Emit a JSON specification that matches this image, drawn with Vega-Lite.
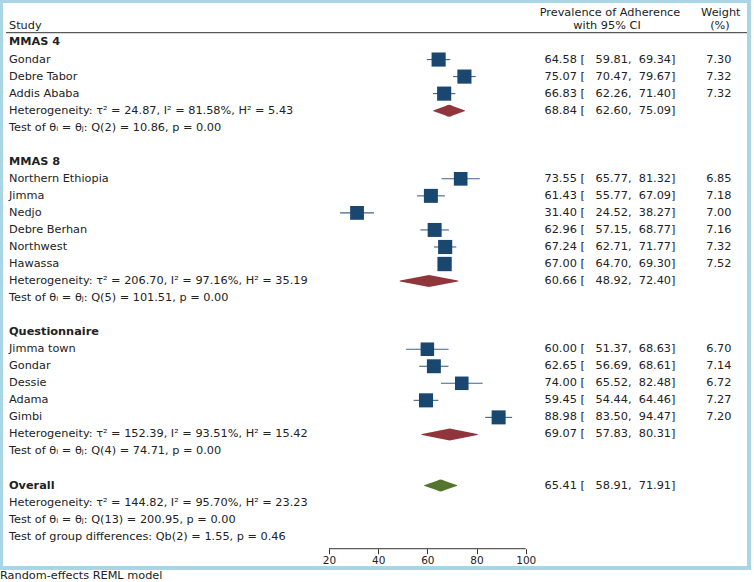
{
  "$schema": "https://vega.github.io/schema/vega-lite/v6.json",
  "width": 748,
  "height": 567,
  "autosize": "none",
  "padding": {"left": 1, "top": 1, "right": 5, "bottom": 14},
  "background": "white",
  "config": {
    "font": "DejaVu Sans",
    "view": {"stroke": "#a9d6e5", "strokeWidth": 4},
    "axisX": {
      "domain": false,
      "grid": false,
      "ticks": true,
      "tickSize": 5,
      "tickColor": "#333333",
      "tickWidth": 1,
      "labelFontSize": 10.5,
      "labelColor": "#222222",
      "labelFont": "DejaVu Sans",
      "labelPadding": 2,
      "labelFlush": false,
      "offset": -19.3
    }
  },
  "datasets": {
    "rows": [
      {"r": 0, "label": "MMAS 4", "bold": true, "kind": "group"},
      {"r": 1, "label": "Gondar", "kind": "study", "est": 64.58, "lo": 59.81, "hi": 69.34, "w": 7.30, "ci": "64.58\u00a0[\u00a0\u00a0\u00a059.81,\u00a0\u00a069.34]"},
      {"r": 2, "label": "Debre Tabor", "kind": "study", "est": 75.07, "lo": 70.47, "hi": 79.67, "w": 7.32, "ci": "75.07\u00a0[\u00a0\u00a0\u00a070.47,\u00a0\u00a079.67]"},
      {"r": 3, "label": "Addis Ababa", "kind": "study", "est": 66.83, "lo": 62.26, "hi": 71.40, "w": 7.32, "ci": "66.83\u00a0[\u00a0\u00a0\u00a062.26,\u00a0\u00a071.40]"},
      {"r": 4, "label": "Heterogeneity: \u03c4\u00b2 = 24.87, I\u00b2 = 81.58%, H\u00b2 = 5.43", "kind": "pooled", "est": 68.84, "lo": 62.60, "hi": 75.09, "ci": "68.84\u00a0[\u00a0\u00a0\u00a062.60,\u00a0\u00a075.09]"},
      {"r": 5, "label": "Test of \u03b8\u1d62 = \u03b8\u2c7c: Q(2) = 10.86, p = 0.00", "kind": "text"},
      {"r": 7, "label": "MMAS 8", "bold": true, "kind": "group"},
      {"r": 8, "label": "Northern Ethiopia", "kind": "study", "est": 73.55, "lo": 65.77, "hi": 81.32, "w": 6.85, "ci": "73.55\u00a0[\u00a0\u00a0\u00a065.77,\u00a0\u00a081.32]"},
      {"r": 9, "label": "Jimma", "kind": "study", "est": 61.43, "lo": 55.77, "hi": 67.09, "w": 7.18, "ci": "61.43\u00a0[\u00a0\u00a0\u00a055.77,\u00a0\u00a067.09]"},
      {"r": 10, "label": "Nedjo", "kind": "study", "est": 31.40, "lo": 24.52, "hi": 38.27, "w": 7.00, "ci": "31.40\u00a0[\u00a0\u00a0\u00a024.52,\u00a0\u00a038.27]"},
      {"r": 11, "label": "Debre Berhan", "kind": "study", "est": 62.96, "lo": 57.15, "hi": 68.77, "w": 7.16, "ci": "62.96\u00a0[\u00a0\u00a0\u00a057.15,\u00a0\u00a068.77]"},
      {"r": 12, "label": "Northwest", "kind": "study", "est": 67.24, "lo": 62.71, "hi": 71.77, "w": 7.32, "ci": "67.24\u00a0[\u00a0\u00a0\u00a062.71,\u00a0\u00a071.77]"},
      {"r": 13, "label": "Hawassa", "kind": "study", "est": 67.00, "lo": 64.70, "hi": 69.30, "w": 7.52, "ci": "67.00\u00a0[\u00a0\u00a0\u00a064.70,\u00a0\u00a069.30]"},
      {"r": 14, "label": "Heterogeneity: \u03c4\u00b2 = 206.70, I\u00b2 = 97.16%, H\u00b2 = 35.19", "kind": "pooled", "est": 60.66, "lo": 48.92, "hi": 72.40, "ci": "60.66\u00a0[\u00a0\u00a0\u00a048.92,\u00a0\u00a072.40]"},
      {"r": 15, "label": "Test of \u03b8\u1d62 = \u03b8\u2c7c: Q(5) = 101.51, p = 0.00", "kind": "text"},
      {"r": 17, "label": "Questionnaire", "bold": true, "kind": "group"},
      {"r": 18, "label": "Jimma town", "kind": "study", "est": 60.00, "lo": 51.37, "hi": 68.63, "w": 6.70, "ci": "60.00\u00a0[\u00a0\u00a0\u00a051.37,\u00a0\u00a068.63]"},
      {"r": 19, "label": "Gondar", "kind": "study", "est": 62.65, "lo": 56.69, "hi": 68.61, "w": 7.14, "ci": "62.65\u00a0[\u00a0\u00a0\u00a056.69,\u00a0\u00a068.61]"},
      {"r": 20, "label": "Dessie", "kind": "study", "est": 74.00, "lo": 65.52, "hi": 82.48, "w": 6.72, "ci": "74.00\u00a0[\u00a0\u00a0\u00a065.52,\u00a0\u00a082.48]"},
      {"r": 21, "label": "Adama", "kind": "study", "est": 59.45, "lo": 54.44, "hi": 64.46, "w": 7.27, "ci": "59.45\u00a0[\u00a0\u00a0\u00a054.44,\u00a0\u00a064.46]"},
      {"r": 22, "label": "Gimbi", "kind": "study", "est": 88.98, "lo": 83.50, "hi": 94.47, "w": 7.20, "ci": "88.98\u00a0[\u00a0\u00a0\u00a083.50,\u00a0\u00a094.47]"},
      {"r": 23, "label": "Heterogeneity: \u03c4\u00b2 = 152.39, I\u00b2 = 93.51%, H\u00b2 = 15.42", "kind": "pooled", "est": 69.07, "lo": 57.83, "hi": 80.31, "ci": "69.07\u00a0[\u00a0\u00a0\u00a057.83,\u00a0\u00a080.31]"},
      {"r": 24, "label": "Test of \u03b8\u1d62 = \u03b8\u2c7c: Q(4) = 74.71, p = 0.00", "kind": "text"},
      {"r": 26, "label": "Overall", "bold": true, "kind": "overall", "est": 65.41, "lo": 58.91, "hi": 71.91, "ci": "65.41\u00a0[\u00a0\u00a0\u00a058.91,\u00a0\u00a071.91]"},
      {"r": 27, "label": "Heterogeneity: \u03c4\u00b2 = 144.82, I\u00b2 = 95.70%, H\u00b2 = 23.23", "kind": "text"},
      {"r": 28, "label": "Test of \u03b8\u1d62 = \u03b8\u2c7c: Q(13) = 200.95, p = 0.00", "kind": "text"},
      {"r": 29, "label": "Test of group differences: Qb(2) = 1.55, p = 0.46", "kind": "text"}
    ]
  },
  "data": {"name": "rows"},
  "layer": [
    {
      "data": {"values": [{}]},
      "mark": {"type": "rule", "color": "#333333", "strokeWidth": 1},
      "encoding": {
        "x": {
          "datum": -111.36,
          "type": "quantitative",
          "title": null,
          "scale": {"domain": [-113.39, 190.8], "nice": false, "zero": false},
          "axis": {"values": [20, 40, 60, 80, 100], "title": null}
        },
        "x2": {"datum": 189.98},
        "y": {
          "datum": -0.575,
          "type": "quantitative",
          "scale": {"domain": [-2.4354, 30.839], "reverse": true, "nice": false, "zero": false},
          "axis": null
        }
      }
    },
    {
      "data": {"values": [{}]},
      "mark": {"type": "rule", "color": "#333333", "strokeWidth": 1},
      "encoding": {
        "x": {"datum": 20, "type": "quantitative", "title": null},
        "x2": {"datum": 100},
        "y": {"datum": 29.707, "type": "quantitative", "axis": null}
      }
    },
    {
      "transform": [{"filter": "datum.kind == 'study'"}],
      "mark": {"type": "rule", "color": "#3d6391", "strokeWidth": 1.1},
      "encoding": {
        "x": {"field": "lo", "type": "quantitative", "title": null},
        "x2": {"field": "hi"},
        "y": {"field": "r", "type": "quantitative", "axis": null}
      }
    },
    {
      "transform": [{"filter": "datum.kind == 'study'"}],
      "mark": {"type": "square", "filled": true, "color": "#1a476f", "opacity": 1},
      "encoding": {
        "x": {"field": "est", "type": "quantitative", "title": null},
        "y": {"field": "r", "type": "quantitative", "axis": null},
        "size": {"field": "w", "type": "quantitative", "scale": {"domain": [0, 7.52], "range": [0, 205]}, "legend": null}
      }
    },
    {
      "transform": [
        {"filter": "datum.kind == 'pooled' || datum.kind == 'overall'"},
        {"fold": ["lo", "est", "hi"], "as": ["pt", "xv"]}
      ],
      "mark": {"type": "trail"},
      "encoding": {
        "x": {"field": "xv", "type": "quantitative", "title": null},
        "y": {"field": "r", "type": "quantitative", "axis": null},
        "detail": {"field": "r", "type": "nominal"},
        "order": {"field": "xv", "type": "quantitative"},
        "size": {"condition": {"test": "datum.pt == 'est'", "value": 12}, "value": 0},
        "color": {"condition": {"test": "datum.kind == 'overall'", "value": "#55752f"}, "value": "#90353b"}
      }
    },
    {
      "transform": [{"filter": "datum.bold !== true"}],
      "mark": {"type": "text", "align": "left", "baseline": "middle", "fontSize": 11.3, "color": "#222222"},
      "encoding": {
        "x": {"datum": -110.14, "type": "quantitative", "title": null},
        "y": {"field": "r", "type": "quantitative", "axis": null},
        "text": {"field": "label"}
      }
    },
    {
      "transform": [{"filter": "datum.bold === true"}],
      "mark": {"type": "text", "align": "left", "baseline": "middle", "fontSize": 11.3, "fontWeight": "bold", "color": "#222222"},
      "encoding": {
        "x": {"datum": -110.14, "type": "quantitative", "title": null},
        "y": {"field": "r", "type": "quantitative", "axis": null},
        "text": {"field": "label"}
      }
    },
    {
      "transform": [{"filter": "isValid(datum.ci)"}],
      "mark": {"type": "text", "align": "right", "baseline": "middle", "fontSize": 11.3, "color": "#222222"},
      "encoding": {
        "x": {"datum": 160.9, "type": "quantitative", "title": null},
        "y": {"field": "r", "type": "quantitative", "axis": null},
        "text": {"field": "ci"}
      }
    },
    {
      "transform": [{"filter": "isValid(datum.w)"}],
      "mark": {"type": "text", "align": "right", "baseline": "middle", "fontSize": 11.3, "color": "#222222"},
      "encoding": {
        "x": {"datum": 183.68, "type": "quantitative", "title": null},
        "y": {"field": "r", "type": "quantitative", "axis": null},
        "text": {"field": "w", "type": "quantitative", "format": ".2f"}
      }
    },
    {
      "data": {"values": [{}]},
      "mark": {"type": "text", "text": "Study", "align": "left", "baseline": "middle", "fontSize": 11.3, "color": "#222222"},
      "encoding": {
        "x": {"datum": -110.14, "type": "quantitative", "title": null},
        "y": {"datum": -0.986, "type": "quantitative", "axis": null}
      }
    },
    {
      "data": {"values": [{}]},
      "mark": {"type": "text", "text": "Prevalence of Adherence", "align": "center", "baseline": "middle", "fontSize": 11.3, "color": "#222222"},
      "encoding": {
        "x": {"datum": 134.27, "type": "quantitative", "title": null},
        "y": {"datum": -1.743, "type": "quantitative", "axis": null}
      }
    },
    {
      "data": {"values": [{}]},
      "mark": {"type": "text", "text": "with 95% CI", "align": "center", "baseline": "middle", "fontSize": 11.3, "color": "#222222"},
      "encoding": {
        "x": {"datum": 133.05, "type": "quantitative", "title": null},
        "y": {"datum": -0.986, "type": "quantitative", "axis": null}
      }
    },
    {
      "data": {"values": [{}]},
      "mark": {"type": "text", "text": "Weight", "align": "center", "baseline": "middle", "fontSize": 11.3, "color": "#222222"},
      "encoding": {
        "x": {"datum": 179.33, "type": "quantitative", "title": null},
        "y": {"datum": -1.743, "type": "quantitative", "axis": null}
      }
    },
    {
      "data": {"values": [{}]},
      "mark": {"type": "text", "text": "(%)", "align": "center", "baseline": "middle", "fontSize": 11.3, "color": "#222222"},
      "encoding": {
        "x": {"datum": 179.0, "type": "quantitative", "title": null},
        "y": {"datum": -0.986, "type": "quantitative", "axis": null}
      }
    },
    {
      "data": {"values": [{}]},
      "mark": {"type": "text", "text": "Random-effects REML model", "align": "left", "baseline": "middle", "fontSize": 11.3, "color": "#222222"},
      "encoding": {
        "x": {"datum": -113.8, "type": "quantitative", "title": null},
        "y": {"datum": 31.31, "type": "quantitative", "axis": null}
      }
    }
  ]
}
